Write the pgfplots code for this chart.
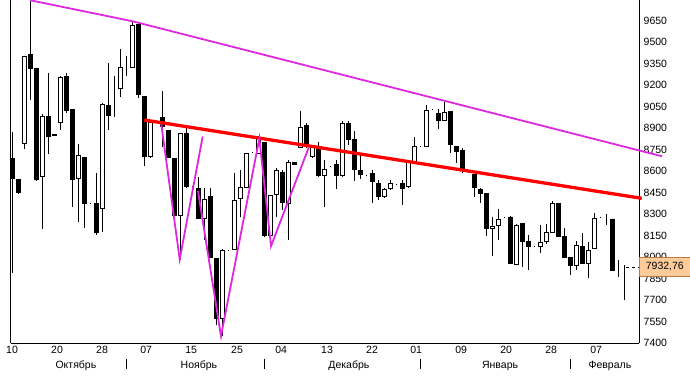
\documentclass[border=0pt]{standalone}
\usepackage{fontspec}
\setmainfont{Liberation Sans}
\usepackage{pgfplots}
\usepackage{pgfplotstable}
\pgfplotsset{compat=1.18}
\definecolor{mag}{RGB}{222,40,222}
\definecolor{peach}{RGB}{255,204,153}
\definecolor{peachedge}{RGB}{190,120,70}

\pgfplotstableread{
k o h l c
0 8687 8876 7889 8547
1 8540 8545 8440 8449
2 8792 9401 8757 9401
3 9415 9788 9100 9317
4 9317 9322 8535 8540
5 8561 9002 8197 8981
6 8981 9282 8722 8841
7 8852 8860 8850 8858
8 8939 9261 8885 9254
9 9261 9282 9009 9023
10 9030 9035 8351 8540
11 8547 8792 8246 8708
12 8694 8700 8204 8372
13 8372 8375 8370 8372
14 8372 8589 8155 8176
15 8337 9079 8176 9065
16 9058 9352 8890 8988
17 9177 9261 8981 9177
18 9177 9450 9121 9324
19 9324 9401 9261 9324
20 9324 9639 9320 9618
21 9625 9630 9114 9135
22 9121 9125 8638 8701
23 8701 8945 8695 8939
25 8974 9156 8771 8911
26 8883 8890 8690 8694
27 8687 8690 8290 8295
28 8295 8868 7980 8862
29 8862 8918 8485 8491
30 8491 8495 8488 8491
31 8477 8561 8270 8274
32 8274 8483 8120 8400
33 8421 8484 7995 8001
34 7994 7998 7525 7574
35 7574 8055 7450 8050
36 8050 8052 8048 8050
37 8057 8591 8050 8396
38 8407 8610 8283 8484
39 8484 8730 8480 8722
40 8729 8731 8727 8729
41 8722 8846 8720 8827
42 8799 8805 8141 8155
43 8155 8435 8071 8428
44 8435 8624 8281 8603
45 8589 8610 8330 8379
46 8372 8680 8120 8659
47 8659 8662 8643 8645
48 8764 9023 8760 8904
49 8918 8939 8765 8771
50 8701 8775 8695 8771
51 8750 8806 8560 8568
52 8568 8680 8353 8610
53 8631 8633 8629 8631
54 8645 8675 8477 8568
55 8568 8948 8560 8932
56 8932 8950 8785 8820
57 8820 8878 8535 8610
58 8605 8729 8547 8575
59 8575 8577 8573 8575
60 8582 8610 8379 8528
61 8512 8540 8400 8421
62 8421 8480 8410 8470
63 8477 8540 8470 8512
64 8512 8514 8510 8512
65 8512 8540 8365 8477
66 8491 8665 8485 8659
67 8666 8841 8660 8771
68 8771 8773 8769 8771
69 8773 9065 8770 9025
70 9030 9032 9028 9030
71 9002 9035 8895 8955
72 8955 9081 8950 9011
73 9016 9020 8729 8785
74 8771 8775 8659 8738
75 8743 8760 8589 8610
77 8575 8580 8423 8484
78 8470 8480 8379 8442
79 8442 8445 8148 8204
80 8204 8283 8008 8218
81 8225 8337 8120 8265
82 8281 8283 8279 8281
83 8281 8285 7950 7959
84 7952 8235 7945 8225
85 8236 8240 7930 8110
86 8109 8155 7910 8073
87 8078 8080 8076 8078
88 8073 8225 8029 8106
89 8113 8232 8092 8176
90 8176 8393 8170 8372
91 8372 8378 8140 8148
92 8148 8201 7995 8001
93 8001 8005 7876 7945
94 7945 8113 7910 8085
95 8073 8169 7950 7957
96 7957 8106 7854 8050
97 8064 8309 8060 8274
98 8281 8283 8279 8281
99 8274 8302 8225 8274
100 8267 8270 7905 7910
101 7933 7980 7862 7933
102 7933 7945 7700 7933
}\candles

\pgfplotsset{base/.style={at={(0,0)}, anchor=south west, scale only axis,
  width=628.3pt, height=343.3pt, xmin=-0.27, xmax=104.45, ymin=7400, ymax=9794}}

\begin{document}
\begin{tikzpicture}
\useasboundingbox (-10.7pt,-35.7pt) rectangle (679.3pt,343.3pt);
% wicks
\begin{axis}[base, hide axis]
\addplot[draw=none, mark=none, error bars/.cd, y dir=minus, y explicit, error mark=none,
  error bar style={draw=black, line width=0.9pt, solid}]
  table[x=k, y=h, y error minus expr=\thisrow{h}-\thisrow{l}] {\candles};
\end{axis}
% bodies
\begin{axis}[base, hide axis, ybar stacked, bar width=0.68]
\addplot[fill=none, draw=none] table[x=k, y expr={min(\thisrow{o},\thisrow{c})}] {\candles};
\addplot[fill=white, draw=black, line width=0.9pt] table[x=k, y expr={max(\thisrow{c}-\thisrow{o},0)}] {\candles};
\addplot[fill=black, draw=black, line width=0.9pt] table[x=k, y expr={max(\thisrow{o}-\thisrow{c},0)}] {\candles};
\end{axis}
% lines and axes
\begin{axis}[base, clip=false,
  axis x line*=bottom, axis y line*=right,
  x axis line style={-, line width=0.8pt}, y axis line style={-, line width=0.8pt},
  major tick length=0pt, tick style={draw=none},
  xtick={-0.05,7.45,14.95,22.3,29.8,37.45,44.8,52.45,59.95,67.3,74.8,82.3,89.8,97.3},
  xticklabels={10,20,28,07,15,25,04,13,22,01,09,20,28,07},
  ytick={7400,7550,7700,7850,8000,8150,8300,8450,8600,8750,8900,9050,9200,9350,9500,9650},
  yticklabel pos=right,
  /pgf/number format/1000 sep={}, /pgf/number format/assume math mode=true,
  ticklabel style={font=\fontsize{10.5}{12}\selectfont},
  xticklabel style={anchor=north, inner sep=0pt, yshift=-2.7pt},
  yticklabel style={anchor=west, inner sep=0pt, xshift=4.5pt},
]
\draw[black, line width=0.8pt] (rel axis cs:0,0) -- (rel axis cs:0,1);
\addplot[mag, line width=1.8pt] coordinates {(3,9792) (20,9646) (108.3,8704)};
\addplot[red, line width=3.3pt] coordinates {(22,8957) (104.9,8411)};
\addplot[mag, line width=1.8pt] coordinates {(24.83,8927) (27.9,7985) (31.73,8842)};
\addplot[mag, line width=1.8pt] coordinates {(30.95,8462) (34.78,7450) (41.17,8828) (43.12,8078) (49.4,8765)};
\addplot[black, dashed, line width=0.6pt] coordinates {(102.3,7932.76) (104.45,7932.76)};
\coordinate (pl) at (axis cs:104.45,7932.76);
\coordinate (m1) at (axis cs:10.6,7400);
\coordinate (m2) at (axis cs:31.1,7400);
\coordinate (m3) at (axis cs:56.1,7400);
\coordinate (m4) at (axis cs:81.3,7400);
\coordinate (m5) at (axis cs:99.6,7400);
\coordinate (s1) at (axis cs:19,7400);
\coordinate (s2) at (axis cs:42,7400);
\coordinate (s3) at (axis cs:68,7400);
\coordinate (s4) at (axis cs:93,7400);
\end{axis}
\begin{scope}[every node/.style={anchor=north, inner sep=0pt, yshift=-17.5pt, font=\fontsize{10.5}{12}\selectfont}]
\node at (m1) {Октябрь};
\node at (m2) {Ноябрь};
\node at (m3) {Декабрь};
\node at (m4) {Январь};
\node at (m5) {Февраль};
\end{scope}
\foreach \s in {s1,s2,s3,s4}{
  \draw[line width=0.8pt] (\s) ++(0,-15.7pt) -- ++(0,-10pt);
}
\node[fill=peach, draw=peachedge, line width=0.6pt, anchor=west, minimum width=51pt, minimum height=19pt,
  inner sep=0pt, font=\fontsize{10.5}{12}\selectfont] at (pl) {7932,76};
\end{tikzpicture}
\end{document}
